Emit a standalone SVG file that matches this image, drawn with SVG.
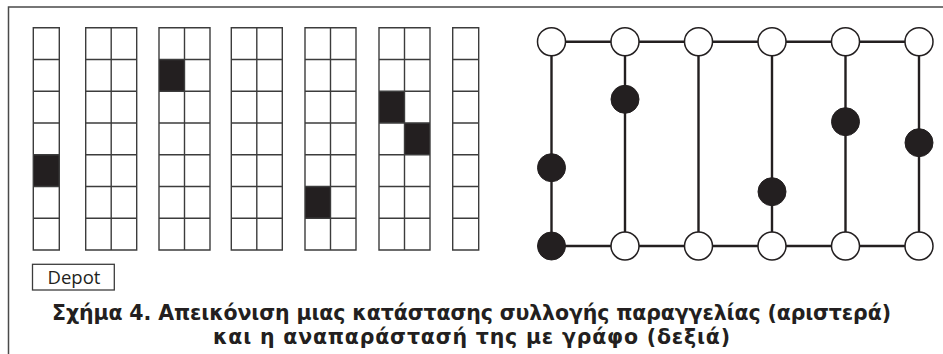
<svg xmlns="http://www.w3.org/2000/svg" xmlns:xlink="http://www.w3.org/1999/xlink" width="943" height="354" viewBox="0 0 943 354">
<style>
.frame{fill:none;stroke:#4a4a4a;stroke-width:1.5}
.grid{fill:none;stroke:#3c3c3c;stroke-width:1.4}
.fill{fill:#231f20}
.edge{stroke:#231f20;stroke-width:2.4;fill:none}
.wn{fill:#fff;stroke:#231f20;stroke-width:1.5}
.bn{fill:#231f20;stroke:#231f20;stroke-width:1}
.depot{font-family:"Open Sans","Liberation Sans",sans-serif;font-size:18.5px;fill:#231f20}
.cap{font-family:"DejaVu Sans","Liberation Sans",sans-serif;font-weight:bold;font-size:20.5px;fill:#231f20}
</style>
<defs>
<path id="sgl" d="M0 0H26V222.3H0Z M0 31.75H26 M0 63.5H26 M0 95.25H26 M0 127H26 M0 158.75H26 M0 190.5H26"/>
<path id="dbl" d="M0 0H51V222.3H0Z M25.5 0V222.3 M0 31.75H51 M0 63.5H51 M0 95.25H51 M0 127H51 M0 158.75H51 M0 190.5H51"/>
</defs>
<path class="frame" d="M8.5 354V7H943"/>
<g id="racks">
<rect class="fill" x="33.3" y="154.7" width="26" height="31.75"/>
<rect class="fill" x="159" y="59.45" width="25.5" height="31.75"/>
<rect class="fill" x="305" y="186.45" width="25.5" height="31.75"/>
<rect class="fill" x="379" y="91.2" width="25.5" height="31.75"/>
<rect class="fill" x="404.5" y="122.95" width="25.5" height="31.75"/>
<use href="#sgl" class="grid" x="33.3" y="27.7"/>
<use href="#dbl" class="grid" x="85.7" y="27.7"/>
<use href="#dbl" class="grid" x="159" y="27.7"/>
<use href="#dbl" class="grid" x="231.3" y="27.7"/>
<use href="#dbl" class="grid" x="305" y="27.7"/>
<use href="#dbl" class="grid" x="379" y="27.7"/>
<use href="#sgl" class="grid" x="452.7" y="27.7"/>
</g>
<g id="depot">
<rect x="32.5" y="264.3" width="81.8" height="25.7" fill="#fff" stroke="#3c3c3c" stroke-width="1.3"/>
<text class="depot" x="74" y="283.5" text-anchor="middle">Depot</text>
</g>
<g id="connectors">
<path class="edge" d="M551.5 41.7H919 M551.5 246H919 M551.5 41.7V246 M625 41.7V246 M698.5 41.7V246 M772 41.7V246 M845.5 41.7V246 M919 41.7V246"/>
</g>
<g id="t1"><circle class="wn" cx="551.5" cy="41.7" r="14"/></g>
<g id="t2"><circle class="wn" cx="625" cy="41.7" r="14"/></g>
<g id="t3"><circle class="wn" cx="698.5" cy="41.7" r="14"/></g>
<g id="t4"><circle class="wn" cx="772" cy="41.7" r="14"/></g>
<g id="t5"><circle class="wn" cx="845.5" cy="41.7" r="14"/></g>
<g id="t6"><circle class="wn" cx="919" cy="41.7" r="14"/></g>
<g id="b1"><circle class="bn" cx="551.5" cy="246" r="14"/></g>
<g id="b2"><circle class="wn" cx="625" cy="246" r="14"/></g>
<g id="b3"><circle class="wn" cx="698.5" cy="246" r="14"/></g>
<g id="b4"><circle class="wn" cx="772" cy="246" r="14"/></g>
<g id="b5"><circle class="wn" cx="845.5" cy="246" r="14"/></g>
<g id="b6"><circle class="wn" cx="919" cy="246" r="14"/></g>
<g id="p1"><circle class="bn" cx="551.5" cy="167.7" r="14"/></g>
<g id="p2"><circle class="bn" cx="625" cy="99.3" r="14"/></g>
<g id="p4"><circle class="bn" cx="772" cy="191.7" r="14"/></g>
<g id="p5"><circle class="bn" cx="845.5" cy="121.7" r="14"/></g>
<g id="p6"><circle class="bn" cx="919" cy="142.7" r="14"/></g>
<g id="caption">
<text class="cap" x="471.5" y="320" text-anchor="middle" textLength="839" lengthAdjust="spacing">Σχήμα 4. Απεικόνιση μιας κατάστασης συλλογής παραγγελίας (αριστερά)</text>
<text class="cap" x="471.5" y="343.5" text-anchor="middle" textLength="517" lengthAdjust="spacing">και η αναπαράστασή της με γράφο (δεξιά)</text>
</g>
</svg>
